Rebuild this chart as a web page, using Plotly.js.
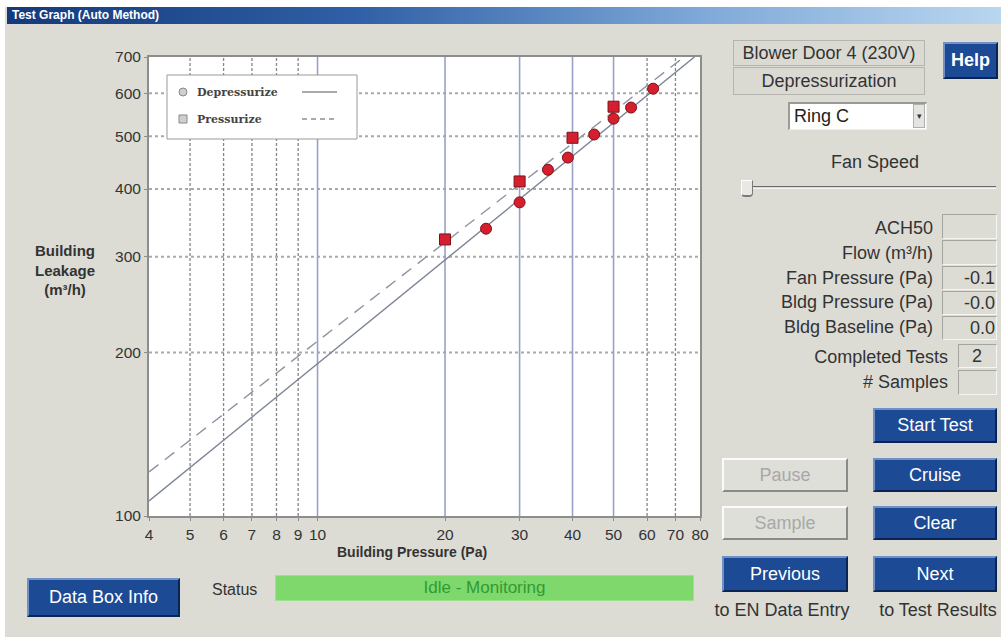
<!DOCTYPE html>
<html><head><meta charset="utf-8">
<script src="https://cdn.plot.ly/plotly-3.0.1.min.js"></script>
<style>
html,body{margin:0;padding:0;width:1001px;height:639px;overflow:hidden;background:#fff;font-family:"Liberation Sans",Arial,sans-serif;}
#win{position:absolute;left:5px;top:7px;width:996px;height:630px;background:#dcdcd5;}
#titlebar{position:absolute;left:7px;top:7px;width:994px;height:17px;background:linear-gradient(to right,#153a7b 0%,#2f5fa6 35%,#7fa9d8 70%,#b9d6ef 100%);color:#fff;font-weight:bold;font-size:12px;line-height:17px;padding-left:5px;box-sizing:border-box;white-space:nowrap;}
#chart{position:absolute;left:0;top:0;width:1001px;height:639px;}
.ui{position:absolute;box-sizing:border-box;white-space:nowrap;}
.box{border:1px solid #b5b5b0;background:#dadad3;text-align:center;color:#333;font-size:18px;}
.btn{background:#1d4a94;color:#fff;text-align:center;font-size:18px;border-top:2px solid #7090c8;border-left:2px solid #7090c8;border-bottom:2px solid #0a2553;border-right:2px solid #0a2553;display:flex;align-items:center;justify-content:center;}
.btn.dis{background:#dfdfda;color:#a8a8a8;border-top:2px solid #fbfbfb;border-left:2px solid #fbfbfb;border-bottom:2px solid #8a8a8a;border-right:2px solid #8a8a8a;}
.lbl{color:#333;font-size:18px;text-align:right;line-height:20px;}
.val{border-top:1px solid #a5a5a0;border-left:1px solid #a5a5a0;border-bottom:1px solid #f5f5f2;border-right:1px solid #f5f5f2;background:#dcdcd5;color:#333;font-size:18px;text-align:right;padding-right:1px;}
</style>
</head><body>
<div id="win"></div>
<div id="titlebar">Test Graph (Auto Method)</div>
<div id="chart"></div>

<div class="ui box" style="left:733px;top:40px;width:192px;height:26px;line-height:24px;">Blower Door 4 (230V)</div>
<div class="ui box" style="left:733px;top:67px;width:192px;height:28px;line-height:26px;">Depressurization</div>
<div class="ui btn" style="left:943px;top:42px;width:55px;height:37px;font-weight:bold;">Help</div>
<div class="ui" style="left:788px;top:102px;width:139px;height:28px;background:#fff;border-top:2px solid #9a9a96;border-left:2px solid #9a9a96;border-bottom:1px solid #f0f0f0;border-right:1px solid #f0f0f0;font-size:18px;color:#222;line-height:24px;padding-left:4px;">Ring C</div>
<div class="ui" style="left:913px;top:104px;width:12px;height:24px;background:#e4e4e0;border:1px solid #b0b0ac;font-size:9px;line-height:22px;text-align:center;color:#333;">▾</div>
<div class="ui lbl" style="left:800px;top:152px;width:150px;text-align:center;">Fan Speed</div>
<div class="ui" style="left:752px;top:186px;width:244px;height:3px;border-top:1px solid #6a6a6a;border-bottom:1px solid #f4f4f4;"></div>
<div class="ui" style="left:741px;top:180px;width:12px;height:17px;background:#e8e8e4;border-top:1px solid #fff;border-left:1px solid #fff;border-right:1px solid #7a7a7a;border-bottom:2px solid #7a7a7a;border-radius:0 0 4px 4px;"></div>

<div class="ui lbl" style="right:68px;top:218px;">ACH50</div>
<div class="ui lbl" style="right:68px;top:243px;">Flow (m³/h)</div>
<div class="ui lbl" style="right:68px;top:268px;">Fan Pressure (Pa)</div>
<div class="ui lbl" style="right:68px;top:292px;">Bldg Pressure (Pa)</div>
<div class="ui lbl" style="right:68px;top:317px;">Bldg Baseline (Pa)</div>
<div class="ui lbl" style="right:53px;top:347px;">Completed Tests</div>
<div class="ui lbl" style="right:53px;top:372px;"># Samples</div>

<div class="ui val" style="left:942px;top:214px;width:55px;height:25px;"></div>
<div class="ui val" style="left:942px;top:240px;width:55px;height:25px;"></div>
<div class="ui val" style="left:942px;top:266px;width:55px;height:24px;line-height:22px;">-0.1</div>
<div class="ui val" style="left:942px;top:291px;width:55px;height:24px;line-height:22px;">-0.0</div>
<div class="ui val" style="left:942px;top:316px;width:55px;height:24px;line-height:22px;">0.0</div>
<div class="ui val" style="left:958px;top:344px;width:39px;height:24px;line-height:22px;text-align:center;">2</div>
<div class="ui val" style="left:958px;top:370px;width:39px;height:25px;"></div>

<div class="ui btn" style="left:873px;top:408px;width:124px;height:35px;">Start Test</div>
<div class="ui btn dis" style="left:722px;top:458px;width:126px;height:34px;">Pause</div>
<div class="ui btn" style="left:873px;top:458px;width:124px;height:34px;">Cruise</div>
<div class="ui btn dis" style="left:722px;top:506px;width:126px;height:34px;">Sample</div>
<div class="ui btn" style="left:873px;top:506px;width:124px;height:34px;">Clear</div>
<div class="ui btn" style="left:722px;top:556px;width:126px;height:36px;">Previous</div>
<div class="ui btn" style="left:873px;top:556px;width:124px;height:36px;">Next</div>
<div class="ui lbl" style="left:702px;top:600px;width:160px;text-align:center;">to EN Data Entry</div>
<div class="ui lbl" style="left:866px;top:600px;width:144px;text-align:center;">to Test Results</div>

<div class="ui btn" style="left:27px;top:578px;width:153px;height:39px;">Data Box Info</div>
<div class="ui lbl" style="left:212px;top:580px;text-align:left;font-size:16px;">Status</div>
<div class="ui" style="left:275px;top:575px;width:419px;height:26px;background:#7fd86b;border:1px solid #9ae38a;color:#2f9b33;font-size:17px;text-align:center;line-height:24px;">Idle - Monitoring</div>

<script>
// ---- data ----
const xTickVals = [4, 5, 6, 7, 8, 9, 10, 20, 30, 40, 50, 60, 70, 80];
const xTickText = ['4', '5', '6', '7', '8', '9', '10', '20', '30', '40', '50', '60', '70', '80'];
const yTickVals = [100, 200, 300, 400, 500, 600, 700];
const yTickText = ['100', '200', '300', '400', '500', '600', '700'];
const majorGridX = [10, 20, 30, 40, 50];
const minorGridX = [5, 6, 7, 8, 9, 60, 70];
const gridY = [200, 300, 400, 500, 600];

const depressP = [25, 30, 35, 39, 45, 50, 55, 62];
const depressQ = [338, 378, 434, 457, 504, 539, 565, 612];
const pressP = [20, 30, 40, 50];
const pressQ = [323, 413, 497, 567];

const depressFitP = [4, 77.6];
const depressFitQ = [106.6, 700];
const pressFitP = [4, 73.3];
const pressFitQ = [120.5, 700];

const legendNames = ['Depressurize', 'Pressurize'];
const xTitle = 'Building Pressure (Pa)';
const yTitle = 'Building<br>Leakage<br>(m³/h)';

// ---- layout geometry ----
const xMin = 4, xMax = 80, yMin = 100, yMax = 700;
const L = 149, R = 700, T = 57, B = 516;
const px = v => (v - L) / (R - L);
const py = v => (B - v) / (B - T);

function vLines(vals) {
  const x = [], y = [];
  vals.forEach(v => { x.push(v, v, null); y.push(yMin, yMax, null); });
  return {x, y};
}
function hLines(vals) {
  const x = [], y = [];
  vals.forEach(v => { x.push(xMin, xMax, null); y.push(v, v, null); });
  return {x, y};
}
const gH = hLines(gridY), gMin = vLines(minorGridX), gMaj = vLines(majorGridX);

const traces = [
  {x: gH.x, y: gH.y, mode: 'lines', line: {color: '#a9a9a9', width: 2, dash: '3px,3px'}, hoverinfo: 'skip', showlegend: false},
  {x: gMin.x, y: gMin.y, mode: 'lines', line: {color: '#858585', width: 1.3, dash: '3px,2px'}, hoverinfo: 'skip', showlegend: false},
  {x: gMaj.x, y: gMaj.y, mode: 'lines', line: {color: '#98a2c6', width: 1.6}, hoverinfo: 'skip', showlegend: false},
  {x: depressFitP, y: depressFitQ, mode: 'lines', name: legendNames[0] + ' fit', line: {color: '#7b8394', width: 1.4}, showlegend: false},
  {x: pressFitP, y: pressFitQ, mode: 'lines', name: legendNames[1] + ' fit', line: {color: '#8e94a2', width: 1.4, dash: '12px,8px'}, showlegend: false},
  {x: depressP, y: depressQ, mode: 'markers', name: legendNames[0], marker: {symbol: 'circle', size: 11, color: '#d51f2e', line: {color: '#7d1018', width: 1}}, showlegend: false},
  {x: pressP, y: pressQ, mode: 'markers', name: legendNames[1], marker: {symbol: 'square', size: 11, color: '#d51f2e', line: {color: '#7d1018', width: 1}}, showlegend: false}
];

const tickFont = {family: 'Liberation Sans, Arial, sans-serif', size: 15.5, color: '#333'};
const axisCommon = {
  type: 'log', showgrid: false, zeroline: false, showline: true, mirror: true,
  linecolor: '#8d8d8d', linewidth: 2, ticks: 'outside', ticklen: 3, tickcolor: '#8d8d8d',
  tickwidth: 1, tickfont: tickFont, fixedrange: true, tickmode: 'array'
};

const legFont = {family: 'DejaVu Serif, serif', size: 11, color: '#444', weight: 'bold'};
const shapes = [
  {type: 'rect', xref: 'paper', yref: 'paper', x0: px(167), x1: px(357), y0: py(139), y1: py(75), fillcolor: '#fff', line: {color: '#9a9a9a', width: 1}},
  {type: 'circle', xref: 'paper', yref: 'paper', x0: px(179), x1: px(187), y0: py(96), y1: py(88), fillcolor: '#cfcfcf', line: {color: '#8a8a8a', width: 1}},
  {type: 'rect', xref: 'paper', yref: 'paper', x0: px(179), x1: px(187), y0: py(123), y1: py(115), fillcolor: '#cfcfcf', line: {color: '#8a8a8a', width: 1}},
  {type: 'line', xref: 'paper', yref: 'paper', x0: px(302), x1: px(337), y0: py(92), y1: py(92), line: {color: '#555', width: 1}},
  {type: 'line', xref: 'paper', yref: 'paper', x0: px(302), x1: px(337), y0: py(119), y1: py(119), line: {color: '#555', width: 1, dash: '5px,4px'}}
];
const annotations = [
  {xref: 'paper', yref: 'paper', x: px(195), y: py(92), xanchor: 'left', yanchor: 'middle', text: legendNames[0], showarrow: false, font: legFont},
  {xref: 'paper', yref: 'paper', x: px(195), y: py(119), xanchor: 'left', yanchor: 'middle', text: legendNames[1], showarrow: false, font: legFont},
  {xref: 'paper', yref: 'paper', x: px(65), y: py(270), xanchor: 'center', yanchor: 'middle', text: yTitle, showarrow: false, align: 'center',
   font: {family: 'Liberation Sans, Arial, sans-serif', size: 15, color: '#333', weight: 'bold'}},
  {xref: 'paper', yref: 'paper', x: px(412), y: py(552), xanchor: 'center', yanchor: 'middle', text: xTitle, showarrow: false,
   font: {family: 'Liberation Sans, Arial, sans-serif', size: 14, color: '#333', weight: 'bold'}}
];

const layout = {
  width: 1001, height: 639,
  margin: {l: L, r: 1001 - R, t: T, b: 639 - B, pad: 0},
  paper_bgcolor: 'rgba(0,0,0,0)', plot_bgcolor: '#ffffff',
  showlegend: false,
  xaxis: Object.assign({}, axisCommon, {range: [Math.log10(xMin), Math.log10(xMax)], tickvals: xTickVals, ticktext: xTickText}),
  yaxis: Object.assign({}, axisCommon, {range: [Math.log10(yMin), Math.log10(yMax)], tickvals: yTickVals, ticktext: yTickText}),
  shapes: shapes,
  annotations: annotations
};

Plotly.newPlot('chart', traces, layout, {displayModeBar: false, staticPlot: true});
</script>
</body></html>
